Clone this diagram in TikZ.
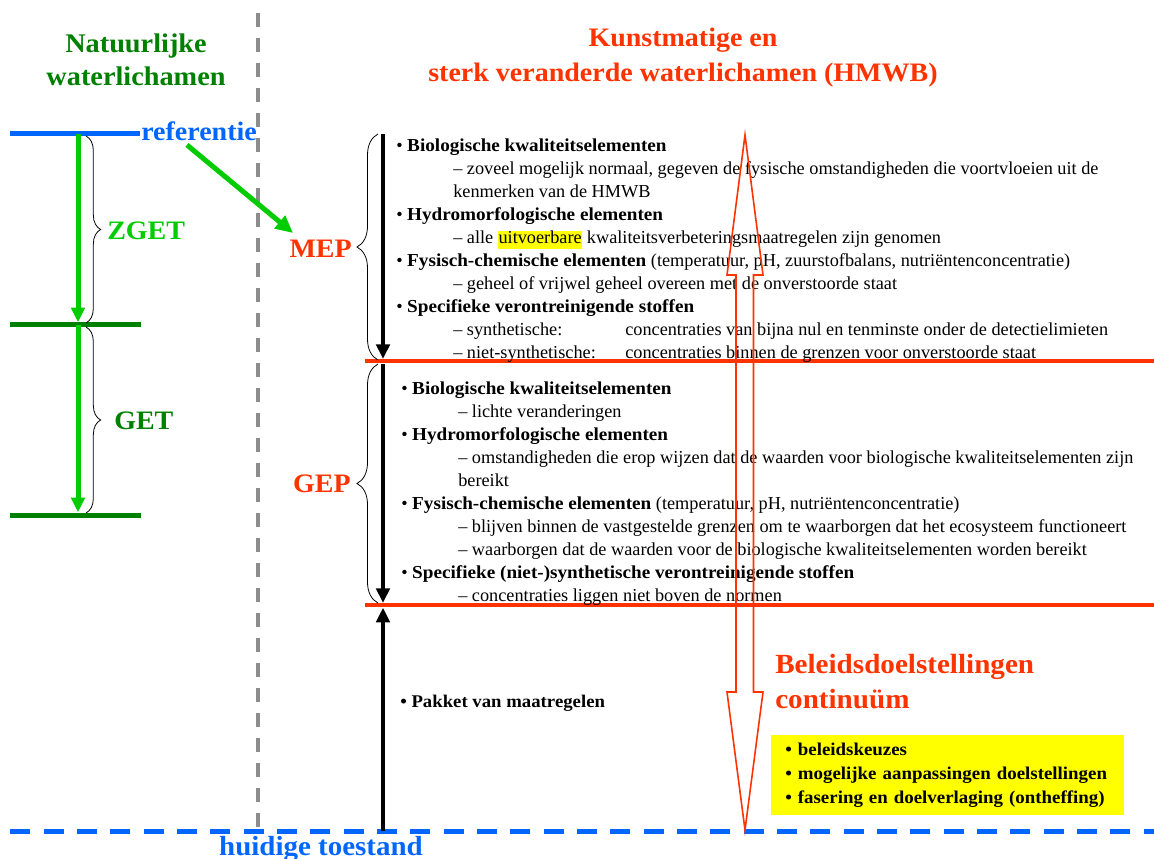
\documentclass[tikz,border=0pt]{standalone}
\usepackage{fontspec}
\setmainfont{Liberation Serif}[BoldFeatures={FakeStretch=1.05}]
\usetikzlibrary{arrows.meta, positioning, decorations.pathreplacing}
\definecolor{hmwb}{HTML}{FF3300}
\definecolor{refblue}{HTML}{0066FF}
\definecolor{zgetgreen}{HTML}{00CC00}
\definecolor{natgreen}{HTML}{008000}
\definecolor{divider}{HTML}{8C8C8C}
\definecolor{marker}{HTML}{FFFF00}
\newcommand{\subindent}{\hspace*{42.75pt}}
\newcommand{\marked}[1]{{\setlength{\fboxsep}{0.5pt}\colorbox{marker}{\rule[-3pt]{0pt}{10.5pt}#1}}}

\begin{document}
\begin{tikzpicture}[
  x=0.75pt, y=-0.75pt,
  heading/.style={font=\fontsize{20}{26.25}\selectfont\bfseries, align=center, inner sep=0pt},
  tag/.style={font=\fontsize{20}{24}\selectfont\bfseries, inner sep=0pt},
  body/.style={font=\fontsize{13.7}{17.25}\selectfont, align=left, inner sep=0pt, anchor=north west},
  level/.style={line width=3.75pt},
  limit/.style={line width=3pt, draw=hmwb},
  greenarrow/.style={-{Triangle[length=11pt,width=10pt]}, line width=3.75pt, draw=zgetgreen},
  goal/.style={-{Triangle[length=11pt,width=10pt]}, line width=3.5pt},
  bracket/.style={decorate, decoration={brace, amplitude=#1}, semithick}
]
\useasboundingbox (0,0) rectangle (1154,859);
\coordinate (refL) at (10,134);
\coordinate (refR) at (140,134);
\coordinate (zgetL) at (10,325);
\coordinate (zgetR) at (141,325);
\coordinate (getL) at (10,515);
\coordinate (getR) at (141,515);
\coordinate (refA) at (78,134);
\coordinate (zgetA) at (78,325);
\coordinate (getA) at (78,515);
\coordinate (mepTop) at (383,134);
\coordinate (mepLine) at (383,361);
\coordinate (gepLine) at (383,605);
\coordinate (nowAxis) at (383,831);
\coordinate (mepL) at (365,361);
\coordinate (mepR) at (1154,361);
\coordinate (gepL) at (365,605);
\coordinate (gepR) at (1154,605);
\coordinate (nowL) at (0,831);
\coordinate (nowR) at (1154,831);
\coordinate (splitTop) at (258,13);
\coordinate (splitBottom) at (258,828);
\coordinate (refTail) at (187,145);
\coordinate (mepTip) at (293,233);

\draw[divider, line width=3pt, dash pattern=on 10.5pt off 8.25pt] (splitTop) -- (splitBottom);

\node[heading, text=natgreen, anchor=north, font=\fontsize{20.2}{24.75}\selectfont\bfseries] (natuurlijk) at (136,34) {Natuurlijke\\waterlichamen};
\node[heading, text=hmwb, anchor=north] (kunstmatig) at (683,28) {Kunstmatige en\\sterk veranderde waterlichamen (HMWB)};

\draw[level, refblue] (refL) -- (refR);
\draw[level, natgreen] (zgetL) -- (zgetR);
\draw[level, natgreen] (getL) -- (getR);
\draw[greenarrow, shorten >=2pt] (refA) -- (zgetA);
\draw[greenarrow, shorten >=2pt] (zgetA) -- (getA);
\draw[bracket=11pt] (86,136) -- (86,323);
\draw[bracket=11pt] (86,327) -- (86,513);
\node[tag, text=zgetgreen, anchor=base west] (zget) at (107,240) {ZGET};
\node[tag, text=natgreen, anchor=base west] (get) at (114,430) {GET};
\node[tag, text=refblue, anchor=base west] (referentie) at (141,141) {referentie};
\draw[greenarrow, -{Triangle[length=13pt,width=12pt]}] (refTail) -- (mepTip);

\draw[limit] (mepL) -- (mepR);
\draw[limit] (gepL) -- (gepR);
\draw[refblue, line width=3.75pt, dash pattern=on 15pt off 10pt, dash phase=17.2pt] (nowL) -- (nowR);
\draw[goal, shorten >=1.5pt] (mepTop) -- (mepLine);
\draw[goal, shorten <=2pt, shorten >=1.5pt] (mepLine) -- (gepLine);
\draw[goal, shorten >=2pt] (nowAxis) -- (gepLine);
\draw[bracket=15.75pt] (378,360) -- (378,134);
\draw[bracket=15.75pt] (378,603) -- (378,364);
\node[tag, text=hmwb, anchor=base east] (mep) at (352,258) {MEP};
\node[tag, text=hmwb, anchor=base east] (gep) at (351,492) {GEP};

\node[body] (mepList) at (396,139) {%
• \textbf{Biologische kwaliteitselementen}\\
\subindent– zoveel mogelijk normaal, gegeven de fysische omstandigheden die voortvloeien uit de\\
\subindent kenmerken van de HMWB\\
• \textbf{Hydromorfologische elementen}\\
\subindent– alle \marked{uitvoerbare} kwaliteitsverbeteringsmaatregelen zijn genomen\\
• \textbf{Fysisch-chemische elementen} (temperatuur, pH, zuurstofbalans, nutriëntenconcentratie)\\
\subindent– geheel of vrijwel geheel overeen met de onverstoorde staat\\
• \textbf{Specifieke verontreinigende stoffen}\\
\subindent\makebox[129pt][l]{– synthetische:}concentraties van bijna nul en tenminste onder de detectielimieten\\
\subindent\makebox[129pt][l]{– niet-synthetische:}concentraties binnen de grenzen voor onverstoorde staat};

\node[body] (gepList) at (401,382) {%
• \textbf{Biologische kwaliteitselementen}\\
\subindent– lichte veranderingen\\
• \textbf{Hydromorfologische elementen}\\
\subindent– omstandigheden die erop wijzen dat de waarden voor biologische kwaliteitselementen zijn\\
\subindent bereikt\\
• \textbf{Fysisch-chemische elementen} (temperatuur, pH, nutriëntenconcentratie)\\
\subindent– blijven binnen de vastgestelde grenzen om te waarborgen dat het ecosysteem functioneert\\
\subindent– waarborgen dat de waarden voor de biologische kwaliteitselementen worden bereikt\\
• \textbf{Specifieke (niet-)synthetische verontreinigende stoffen}\\
\subindent– concentraties liggen niet boven de normen};

\node[body, anchor=base west, font=\fontsize{13.4}{17.25}\selectfont\bfseries] (pakket) at (400,707) {• Pakket van maatregelen};

\node[heading, text=hmwb, align=left, anchor=north west, font=\fontsize{20.8}{26.25}\selectfont\bfseries] (continuum) at (775,654) {Beleidsdoelstellingen\\continuüm};
\node[fill=marker, anchor=north west, align=left, font=\fontsize{13.5}{18}\selectfont\bfseries,
  text width=243.75pt, inner xsep=10.5pt, inner ysep=0pt, minimum height=60pt] (keuzes) at (771,735)
  {• beleidskeuzes\\• mogelijke aanpassingen doelstellingen\\• fasering en doelverlaging (ontheffing)};

\draw[hmwb, line width=1.2pt, line join=miter] (745,135) -- (763,275) -- (753.5,275) -- (753.5,692) -- (763,692)
  -- (745,830) -- (727,692) -- (736,692) -- (736,275) -- (727,275) -- cycle;

\node[tag, text=refblue, anchor=base, font=\fontsize{20.7}{24}\selectfont\bfseries] (huidig) at (321,855) {huidige toestand};
\end{tikzpicture}
\end{document}
